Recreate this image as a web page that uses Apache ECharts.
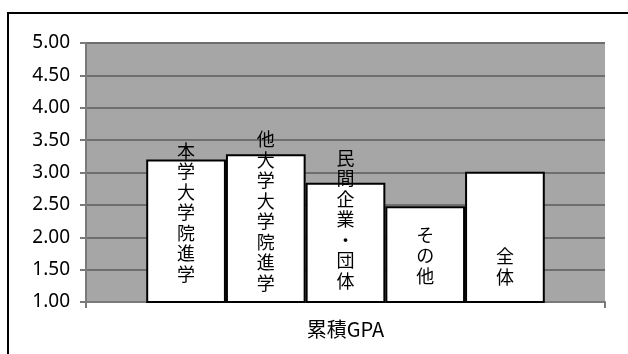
<!DOCTYPE html>
<html>
<head>
<meta charset="utf-8">
<script src="https://cdn.jsdelivr.net/npm/echarts@6/dist/echarts.min.js"></script>
<style>
  html, body { margin: 0; padding: 0; background: #fff; }
  #chart { width: 628px; height: 354px; }
</style>
</head>
<body>
<div id="chart"></div>
<script>
// Cumulative GPA by post-graduation path
const category = ['累積GPA'];
const groups = ['本学大学院進学', '他大学大学院進学', '民間企業・団体', 'その他', '全体'];
const gpa = [3.20, 3.28, 2.84, 2.48, 3.01];

// vertical label lift above the axis, per bar
const labelLift = [19, 10, 12, 17, 16];

const chart = echarts.init(document.getElementById('chart'), null, { renderer: 'canvas' });

const series = groups.map((name, i) => ({
  name: name,
  type: 'bar',
  data: [gpa[i]],
  barGap: '0%',
  barCategoryGap: '23.2%',
  itemStyle: { color: '#ffffff', borderColor: '#000000', borderWidth: 2 },
  label: {
    show: true,
    position: 'insideBottom',
    distance: labelLift[i],
    formatter: () => name.split('').join('\n'),
    color: '#000000',
    fontFamily: '"Noto Sans CJK JP", sans-serif',
    fontSize: 18,
    lineHeight: 20.5,
    align: 'center'
  },
  emphasis: { disabled: true }
}));

chart.setOption({
  animation: false,
  backgroundColor: '#ffffff',
  graphic: [{
    type: 'rect',
    shape: { x: 8, y: 13, width: 700, height: 500 },
    style: { fill: 'none', stroke: '#000000', lineWidth: 2 },
    silent: true
  }],
  grid: {
    left: 86, right: 23, top: 43, bottom: 52,
    show: true, backgroundColor: '#a6a6a6', borderWidth: 0
  },
  xAxis: {
    type: 'category',
    data: category,
    axisLine: { lineStyle: { color: '#7a7a7a', width: 2 } },
    axisTick: { show: true, length: 6, lineStyle: { color: '#7a7a7a', width: 2 } },
    axisLabel: {
      margin: 17,
      color: '#000000',
      fontFamily: '"Noto Sans CJK JP", sans-serif',
      fontSize: 20
    }
  },
  yAxis: {
    type: 'value',
    min: 1,
    max: 5,
    interval: 0.5,
    axisLine: { show: true, lineStyle: { color: '#7a7a7a', width: 2 } },
    axisTick: { show: true, length: 6, lineStyle: { color: '#7a7a7a', width: 2 } },
    splitLine: { show: true, lineStyle: { color: '#6e6e6e', width: 2 } },
    axisLabel: {
      margin: 16,
      color: '#000000',
      fontFamily: '"Noto Sans", sans-serif',
      fontSize: 19,
      formatter: v => v.toFixed(2)
    }
  },
  series: series
});
</script>
</body>
</html>
